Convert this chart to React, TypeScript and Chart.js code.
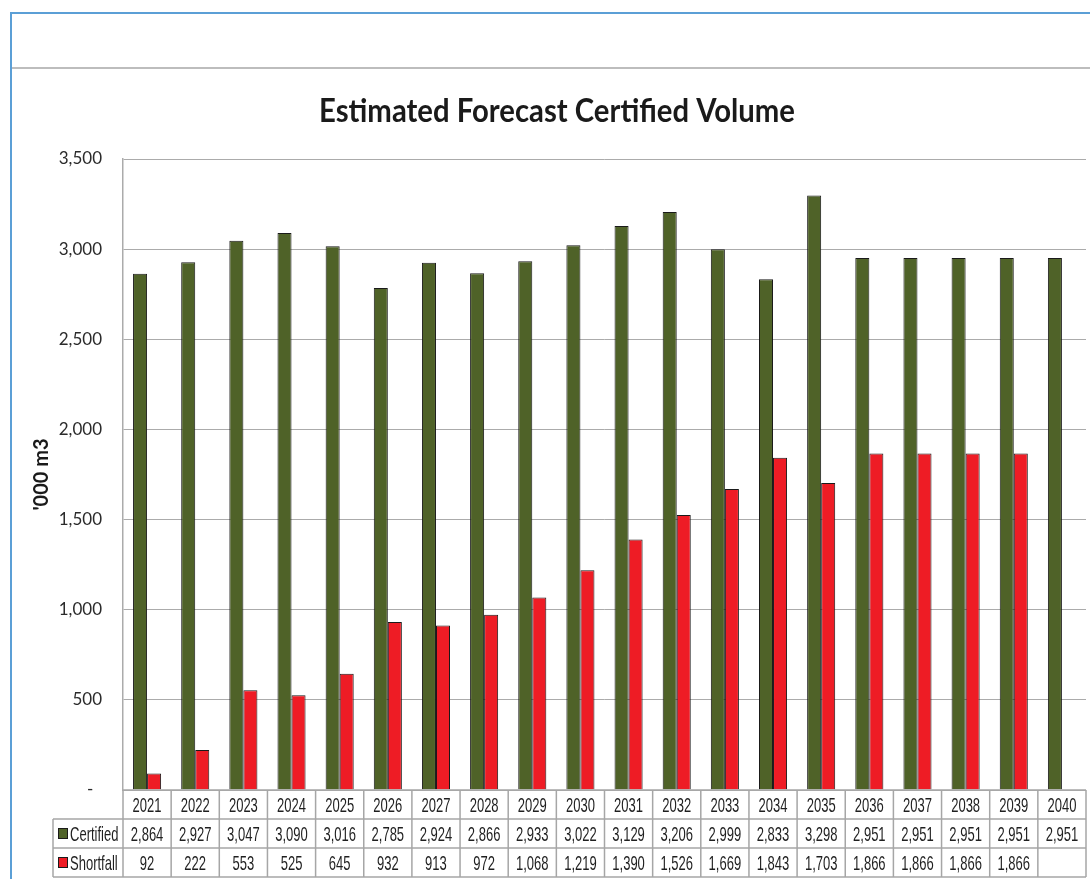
import React, { useEffect, useRef } from "react";
import { Chart, registerables } from "chart.js";

Chart.register(...registerables);

const years = [
  "2021", "2022", "2023", "2024", "2025", "2026", "2027", "2028", "2029", "2030",
  "2031", "2032", "2033", "2034", "2035", "2036", "2037", "2038", "2039", "2040",
];
const certified = [
  2864, 2927, 3047, 3090, 3016, 2785, 2924, 2866, 2933, 3022,
  3129, 3206, 2999, 2833, 3298, 2951, 2951, 2951, 2951, 2951,
];
const shortfall: (number | null)[] = [
  92, 222, 553, 525, 645, 932, 913, 972, 1068, 1219,
  1390, 1526, 1669, 1843, 1703, 1866, 1866, 1866, 1866, null,
];
const seriesNames = ["Certified", "Shortfall"];
const seriesColors = ["#4F6228", "#EE1C25"];
const chartTitle = "Estimated Forecast Certified Volume";
const yTitle = "'000 m3";
const yMin = 0;
const yMax = 3500;
const yStep = 500;

const TABLE_FONT = '"Liberation Sans", Arial, sans-serif';
const LATO = 'Lato, "Open Sans", sans-serif';

const fmt = (v: number | null) => (v === null || v === undefined ? "" : v.toLocaleString("en-US"));

const decorPlugin = {
  id: "decor",
  beforeDraw(chart: any) {
    const ctx = chart.ctx;
    ctx.save();
    ctx.fillStyle = "#ffffff";
    ctx.fillRect(0, 0, chart.width, chart.height);
    ctx.fillStyle = "#5B9FD6";
    ctx.fillRect(10, 12, chart.width - 10, 2);
    ctx.fillRect(10, 12, 2, chart.height - 12);
    ctx.fillStyle = "#BDBDBD";
    ctx.fillRect(12, 67, chart.width - 12, 2);
    ctx.restore();
  },
  afterDraw(chart: any) {
    const ctx = chart.ctx;
    const xs = chart.scales.x;
    const area = chart.chartArea;
    const n = years.length;
    const c0 = xs.getPixelForValue(0);
    const c1 = xs.getPixelForValue(1);
    const w = c1 - c0;
    const left = c0 - w / 2;
    const right = xs.getPixelForValue(n - 1) + w / 2;
    const top = area.bottom;
    const rowH = 29;
    const labelLeft = 53;

    ctx.save();
    ctx.fillStyle = "#1a1a1a";
    ctx.font = `bold 32px ${LATO}`;
    ctx.textAlign = "center";
    ctx.textBaseline = "alphabetic";
    ctx.fillText(chartTitle, 557, 122, 476);
    ctx.restore();

    ctx.save();
    ctx.strokeStyle = "#A6A6A6";
    ctx.lineWidth = 1.5;
    ctx.beginPath();
    for (let r = 0; r <= 3; r++) {
      const y = top + r * rowH;
      ctx.moveTo(r === 0 ? left : labelLeft, y);
      ctx.lineTo(right, y);
    }
    for (let i = 0; i <= n; i++) {
      const x = left + i * w;
      ctx.moveTo(x, top);
      ctx.lineTo(x, top + 3 * rowH);
    }
    ctx.moveTo(labelLeft, top + rowH);
    ctx.lineTo(labelLeft, top + 3 * rowH);
    ctx.stroke();

    const drawText = (t: string, x: number, baseY: number, align: CanvasTextAlign) => {
      ctx.save();
      ctx.translate(x, baseY);
      ctx.scale(0.62, 1);
      ctx.textAlign = align;
      ctx.textBaseline = "alphabetic";
      ctx.fillText(t, 0, 0);
      ctx.restore();
    };

    ctx.fillStyle = "#1f1f1f";
    ctx.font = `21px ${TABLE_FONT}`;
    const rowsData = [certified, shortfall];
    for (let i = 0; i < n; i++) {
      const cx = xs.getPixelForValue(i);
      drawText(years[i], cx, top + 22, "center");
      drawText(fmt(rowsData[0][i]), cx, top + rowH + 22, "center");
      drawText(fmt(rowsData[1][i]), cx, top + 2 * rowH + 22, "center");
    }
    for (let s = 0; s < 2; s++) {
      const ry = top + (s + 1) * rowH;
      ctx.fillStyle = seriesColors[s];
      ctx.fillRect(58.5, ry + 9.5, 9, 10);
      ctx.strokeStyle = "#1a1a1a";
      ctx.lineWidth = 1;
      ctx.strokeRect(58.5, ry + 9.5, 9, 10);
      ctx.fillStyle = "#1f1f1f";
      drawText(seriesNames[s], 70, ry + 22, "left");
    }
    ctx.restore();
  },
};

export default function App() {
  const ref = useRef<HTMLCanvasElement | null>(null);
  useEffect(() => {
    if (!ref.current) return;
    const chart = new Chart(ref.current, {
      type: "bar",
      data: {
        labels: years,
        datasets: [
          {
            label: seriesNames[0],
            data: certified,
            backgroundColor: seriesColors[0],
            borderColor: "#1a1a1a",
            borderWidth: 1,
            categoryPercentage: 0.583,
            barPercentage: 1,
          },
          {
            label: seriesNames[1],
            data: shortfall,
            backgroundColor: seriesColors[1],
            borderColor: "#1a1a1a",
            borderWidth: 1,
            categoryPercentage: 0.583,
            barPercentage: 1,
          },
        ],
      },
      options: {
        responsive: false,
        animation: false,
        layout: { padding: { left: 0, right: 4, top: 159, bottom: 89 } },
        plugins: {
          legend: { display: false },
          title: { display: false },
          tooltip: { enabled: false },
        },
        scales: {
          x: { display: false },
          y: {
            min: yMin,
            max: yMax,
            afterFit: (s: any) => {
              s.width = 123;
            },
            ticks: {
              stepSize: yStep,
              padding: 21,
              color: "#2b2b2b",
              font: { family: LATO, size: 17 },
              callback: (v: any) => (Number(v) === 0 ? "-  " : Number(v).toLocaleString("en-US")),
            },
            grid: { color: "#ABABAB", lineWidth: 1, drawTicks: false },
            border: { display: true, color: "#ABABAB", width: 1.5 },
            title: {
              display: true,
              text: yTitle,
              color: "#1a1a1a",
              font: { family: LATO, size: 20, weight: "bold" },
              padding: { top: 30, bottom: 0 },
            },
          },
        },
      },
      plugins: [decorPlugin],
    });
    return () => chart.destroy();
  }, []);
  return (
    <div style={{ position: "absolute", left: 0, top: 0, width: 1090, height: 879 }}>
      <canvas ref={ref} width={1090} height={879} />
    </div>
  );
}
